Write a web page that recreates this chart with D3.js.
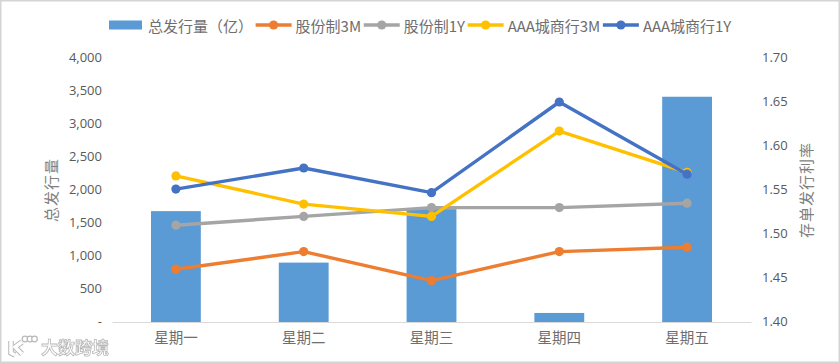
<!DOCTYPE html>
<html>
<head>
<meta charset="utf-8">
<script src="https://cdnjs.cloudflare.com/ajax/libs/d3/7.8.5/d3.min.js"></script>
<style>
html, body { margin: 0; padding: 0; background: #fff; }
svg { display: block; filter: blur(0.35px); }
text { font-family: "Noto Sans CJK SC", "Open Sans", sans-serif; fill: #595959; }
</style>
</head>
<body>
<script>
var categories = ['星期一', '星期二', '星期三', '星期四', '星期五'];
var issuance = [1680, 900, 1710, 137, 3413];
var jointStock3M = [1.46, 1.48, 1.447, 1.48, 1.485];
var jointStock1Y = [1.51, 1.52, 1.53, 1.53, 1.535];
var cityAAA3M = [1.566, 1.534, 1.52, 1.617, 1.57];
var cityAAA1Y = [1.551, 1.575, 1.547, 1.65, 1.568];
var leftTicks = [0, 500, 1000, 1500, 2000, 2500, 3000, 3500, 4000];
var rightTicks = [1.40, 1.45, 1.50, 1.55, 1.60, 1.65, 1.70];

var lineSeries = [
	{name: '股份制3M', values: jointStock3M, color: '#ED7D31'},
	{name: '股份制1Y', values: jointStock1Y, color: '#A5A5A5'},
	{name: 'AAA城商行3M', values: cityAAA3M, color: '#FFC000'},
	{name: 'AAA城商行1Y', values: cityAAA1Y, color: '#4472C4'}
];

var W = 840, H = 363;
var margin = {top: 58, right: 89, bottom: 41, left: 112},
    width = W - margin.left - margin.right,
    height = H - margin.top - margin.bottom;

var svg = d3.select('body').append('svg')
	.attr('width', W)
	.attr('height', H);

// frame of the screenshot
svg.append('rect')
	.attr('x', 0.75).attr('y', 0.75)
	.attr('width', W - 1.5).attr('height', H - 1.5)
	.attr('fill', '#fff')
	.attr('stroke', '#D4D4D4')
	.attr('stroke-width', 1.5);

var g = svg.append('g')
	.attr('transform', 'translate(' + margin.left + ',' + margin.top + ')');

var x = d3.scaleBand().domain(categories).range([0, width]).paddingInner(0.61).paddingOuter(0.305);
var y = d3.scaleLinear().domain([0, 4000]).range([height, 0]);
var y2 = d3.scaleLinear().domain([1.40, 1.70]).range([height, 0]);

// bars
g.selectAll('.bar')
	.data(issuance)
	.enter()
	.append('rect')
	.attr('class', 'bar')
	.attr('x', function(d, i) { return x(categories[i]); })
	.attr('y', function(d) { return y(d); })
	.attr('width', x.bandwidth())
	.attr('height', function(d) { return height - y(d); })
	.attr('fill', '#5B9BD5');

// axes
var xAxis = g.append('g')
	.attr('transform', 'translate(0,' + height + ')')
	.call(d3.axisBottom(x).tickSize(0).tickPadding(11));
xAxis.select('.domain').attr('stroke', '#D9D9D9').attr('stroke-width', 1.2);

var yAxis = g.append('g')
	.call(d3.axisLeft(y).tickValues(leftTicks).tickSize(0).tickPadding(10)
		.tickFormat(function(d) { return d === 0 ? '-' : d3.format(',')(d); }));
yAxis.select('.domain').remove();

var yAxisRight = g.append('g')
	.attr('transform', 'translate(' + width + ',0)')
	.call(d3.axisRight(y2).tickValues(rightTicks).tickSize(0).tickPadding(11)
		.tickFormat(d3.format('.2f')));
yAxisRight.select('.domain').remove();

g.selectAll('.tick text')
	.style('font-family', '"Open Sans", "Noto Sans CJK SC", sans-serif')
	.style('font-size', '13px');
yAxis.selectAll('.tick text').attr('dy', '0.25em');
yAxisRight.selectAll('.tick text').attr('dy', '0.25em');
xAxis.selectAll('.tick text')
	.style('font-family', '"Noto Sans CJK SC", sans-serif')
	.style('font-size', '14.5px')
	.style('fill', '#6E6E6E');

// lines
var line = d3.line()
	.x(function(d, i) { return x(categories[i]) + x.bandwidth() / 2; })
	.y(function(d) { return y2(d); });

var seriesGroups = g.selectAll('.series')
	.data(lineSeries)
	.enter()
	.append('g')
	.attr('class', 'series');

seriesGroups.append('path')
	.attr('d', function(d) { return line(d.values); })
	.attr('fill', 'none')
	.attr('stroke', function(d) { return d.color; })
	.attr('stroke-width', 3.4)
	.attr('stroke-linejoin', 'round');

seriesGroups.selectAll('circle')
	.data(function(d) { return d.values.map(function(v) { return {v: v, color: d.color}; }); })
	.enter()
	.append('circle')
	.attr('cx', function(d, i) { return x(categories[i]) + x.bandwidth() / 2; })
	.attr('cy', function(d) { return y2(d.v); })
	.attr('r', 4.6)
	.attr('fill', function(d) { return d.color; });

// axis titles
svg.append('text')
	.attr('transform', 'translate(50,190) rotate(-90)')
	.attr('text-anchor', 'middle')
	.attr('dominant-baseline', 'central')
	.style('font-size', '15px')
	.style('letter-spacing', '1px')
	.style('fill', '#7F7F7F')
	.text('总发行量');

svg.append('text')
	.attr('transform', 'translate(805,190) rotate(-90)')
	.attr('text-anchor', 'middle')
	.attr('dominant-baseline', 'central')
	.style('font-size', '15px')
	.style('letter-spacing', '1px')
	.style('fill', '#7F7F7F')
	.text('存单发行利率');

// legend, laid out left to right from the measured text widths
var legend = svg.append('g').attr('transform', 'translate(109,25)');
var legendX = 0;

function addLegendItem(name, color, isBar) {
	var item = legend.append('g').attr('transform', 'translate(' + legendX + ',0)');
	if (isBar) {
		item.append('rect')
			.attr('x', 0).attr('y', -4.5)
			.attr('width', 33).attr('height', 9)
			.attr('fill', color);
	} else {
		item.append('line')
			.attr('x1', 0).attr('x2', 36)
			.attr('stroke', color)
			.attr('stroke-width', 3.4);
		item.append('circle')
			.attr('cx', 18).attr('r', 4.6)
			.attr('fill', color);
	}
	var label = item.append('text')
		.attr('x', isBar ? 39 : 40)
		.attr('dominant-baseline', 'central')
		.style('font-size', '15px')
		.style('fill', '#6E6E6E')
		.text(name);
	legendX += (isBar ? 39 : 40) + label.node().getComputedTextLength() + 2.6;
}

addLegendItem('总发行量（亿）', '#5B9BD5', true);
lineSeries.forEach(function(s) { addLegendItem(s.name, s.color, false); });

// watermark: logo and site name
var mark = svg.append('g');
var logoPaths = ['M11 341 L11 353 L15 355', 'M22 342 L15 347 L22 354'];
mark.selectAll('.logoBack')
	.data(logoPaths)
	.enter()
	.append('path')
	.attr('d', function(d) { return d; })
	.attr('fill', 'none')
	.attr('stroke', '#B8B8B8')
	.attr('stroke-width', 5.5);
mark.selectAll('.logoFront')
	.data(logoPaths)
	.enter()
	.append('path')
	.attr('d', function(d) { return d; })
	.attr('fill', 'none')
	.attr('stroke', '#fff')
	.attr('stroke-width', 3.5);
mark.selectAll('.logoDot')
	.data([[25, 339], [30, 339], [34.5, 339]])
	.enter()
	.append('circle')
	.attr('cx', function(d) { return d[0]; })
	.attr('cy', function(d) { return d[1]; })
	.attr('r', 2.8)
	.attr('fill', '#fff')
	.attr('stroke', '#B8B8B8')
	.attr('stroke-width', 1.2);
mark.append('text')
	.attr('x', 41).attr('y', 354)
	.style('font-size', '17px')
	.style('font-weight', '700')
	.style('fill', '#fff')
	.style('stroke', '#B8B8B8')
	.style('stroke-width', 0.8)
	.text('大数跨境');
</script>
</body>
</html>
